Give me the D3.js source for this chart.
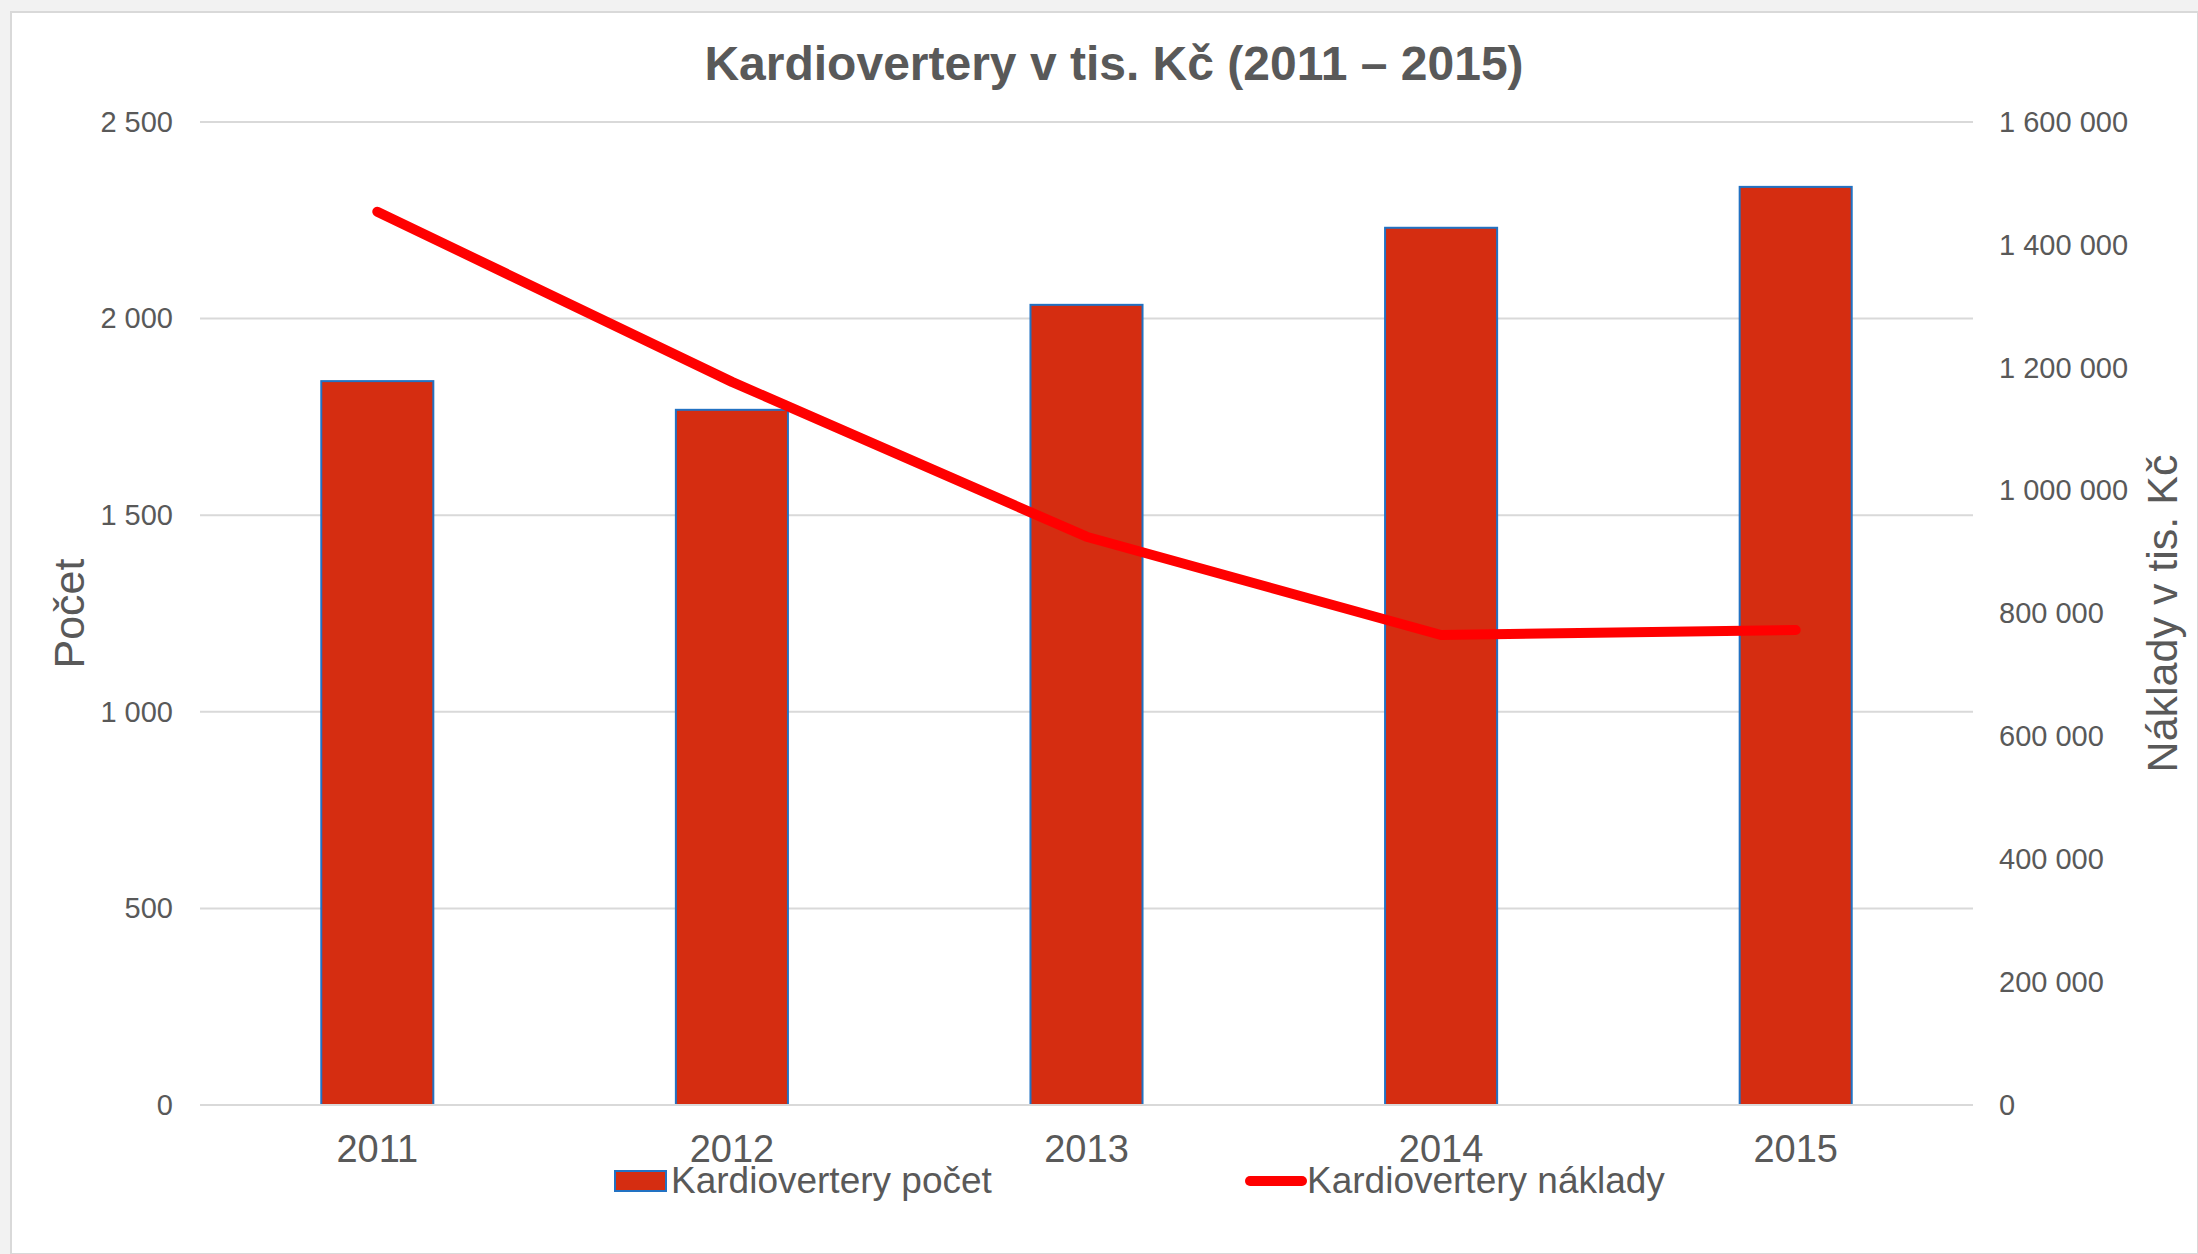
<!DOCTYPE html>
<html>
<head>
<meta charset="utf-8">
<script src="https://cdn.jsdelivr.net/npm/d3@7"></script>
<style>
  body { margin: 0; background: #ffffff; }
  svg text { font-family: "Liberation Sans", Arial, sans-serif; fill: #595959; }
</style>
</head>
<body>
<div id="chart"></div>
<script>
// data
var years = ["2011", "2012", "2013", "2014", "2015"];
var pocet = [1841, 1768, 2035, 2231, 2335];          // bars, left axis
var naklady = [1454000, 1177000, 925000, 765000, 773000]; // line, right axis
var leftTicks = [0, 500, 1000, 1500, 2000, 2500];
var rightTicks = [0, 200000, 400000, 600000, 800000, 1000000, 1200000, 1400000, 1600000];

var W = 2198, H = 1254;
var margin = {top: 122, right: 225, bottom: 149, left: 200};

var svg = d3.select("#chart").append("svg")
    .attr("width", W)
    .attr("height", H);

// slide background round the chart area
svg.append("rect").attr("x", 0).attr("y", 0).attr("width", W).attr("height", H).attr("fill", "#f2f2f2");
svg.append("rect")
    .attr("x", 11).attr("y", 12)
    .attr("width", W - 11).attr("height", H - 12)
    .attr("fill", "#ffffff")
    .attr("stroke", "#d9d9d9")
    .attr("stroke-width", 2);

var x = d3.scaleBand()
    .domain(years)
    .range([margin.left, W - margin.right])
    .paddingInner(0.684)
    .paddingOuter(0.342);

var y = d3.scaleLinear().domain([0, 2500]).range([H - margin.bottom, margin.top]);
var y2 = d3.scaleLinear().domain([0, 1600000]).range([H - margin.bottom, margin.top]);

// format with space as thousands separator
var fmt = function(v) { return d3.format(",")(v).replace(/,/g, " "); };

// gridlines
svg.append("g")
    .selectAll("line")
    .data(leftTicks)
    .enter().append("line")
    .attr("x1", margin.left)
    .attr("x2", W - margin.right)
    .attr("y1", function(d) { return y(d); })
    .attr("y2", function(d) { return y(d); })
    .attr("stroke", "#d9d9d9")
    .attr("stroke-width", 2);

// left axis
var leftAxis = svg.append("g")
    .attr("transform", "translate(" + margin.left + ",0)")
    .call(d3.axisLeft(y).tickValues(leftTicks).tickFormat(fmt).tickSize(0).tickPadding(27));
leftAxis.select(".domain").remove();
leftAxis.selectAll("text").style("font-size", "29px").attr("fill", "#595959");

// right axis
var rightAxis = svg.append("g")
    .attr("transform", "translate(" + (W - margin.right) + ",0)")
    .call(d3.axisRight(y2).tickValues(rightTicks).tickFormat(fmt).tickSize(0).tickPadding(26));
rightAxis.select(".domain").remove();
rightAxis.selectAll("text").style("font-size", "29px").attr("fill", "#595959");

// bottom axis labels
var bottomAxis = svg.append("g")
    .attr("transform", "translate(0," + (H - margin.bottom) + ")")
    .call(d3.axisBottom(x).tickSize(0).tickPadding(30));
bottomAxis.select(".domain").remove();
bottomAxis.selectAll("text").style("font-size", "38px").attr("fill", "#595959");

// bars
svg.append("g")
    .selectAll("rect")
    .data(years)
    .enter().append("rect")
    .attr("x", function(d) { return x(d); })
    .attr("y", function(d, i) { return y(pocet[i]); })
    .attr("width", x.bandwidth())
    .attr("height", function(d, i) { return y(0) - y(pocet[i]); })
    .attr("fill", "#d52d11")
    .attr("stroke", "#2272c3")
    .attr("stroke-width", 2);

// baseline
svg.append("line")
    .attr("x1", margin.left).attr("x2", W - margin.right)
    .attr("y1", y(0)).attr("y2", y(0))
    .attr("stroke", "#d9d9d9")
    .attr("stroke-width", 2);

// line for costs
var line = d3.line()
    .x(function(d, i) { return x(years[i]) + x.bandwidth() / 2; })
    .y(function(d) { return y2(d); });

svg.append("path")
    .datum(naklady)
    .attr("d", line)
    .attr("fill", "none")
    .attr("stroke", "#ff0000")
    .attr("stroke-width", 10)
    .attr("stroke-linejoin", "round")
    .attr("stroke-linecap", "round");

// title
svg.append("text")
    .attr("x", 1114)
    .attr("y", 80)
    .attr("text-anchor", "middle")
    .style("font-size", "48px")
    .style("font-weight", "bold")
    .text("Kardiovertery v tis. Kč (2011 – 2015)");

// axis titles
svg.append("text")
    .attr("transform", "translate(84," + ((y(0) + y(2500)) / 2) + ") rotate(-90)")
    .attr("text-anchor", "middle")
    .style("font-size", "43px")
    .text("Počet");

svg.append("text")
    .attr("transform", "translate(2177," + ((y(0) + y(2500)) / 2) + ") rotate(-90)")
    .attr("text-anchor", "middle")
    .style("font-size", "43px")
    .text("Náklady v tis. Kč");

// legend
var legend = svg.append("g");
legend.append("rect")
    .attr("x", 615).attr("y", 1171)
    .attr("width", 51).attr("height", 20)
    .attr("fill", "#d52d11")
    .attr("stroke", "#2272c3")
    .attr("stroke-width", 2);
legend.append("text")
    .attr("x", 671).attr("y", 1193)
    .style("font-size", "37px")
    .text("Kardiovertery počet");

legend.append("line")
    .attr("x1", 1250).attr("x2", 1302)
    .attr("y1", 1181).attr("y2", 1181)
    .attr("stroke", "#ff0000")
    .attr("stroke-width", 10)
    .attr("stroke-linecap", "round");
legend.append("text")
    .attr("x", 1307).attr("y", 1193)
    .style("font-size", "37px")
    .text("Kardiovertery náklady");
</script>
</body>
</html>
